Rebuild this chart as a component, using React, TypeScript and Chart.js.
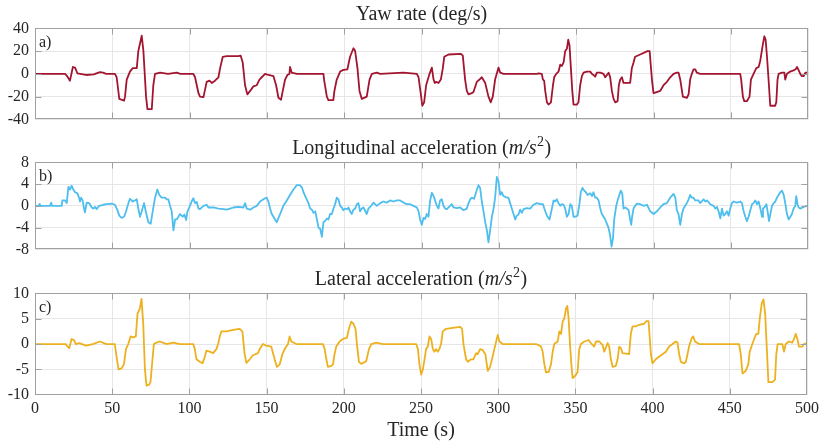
import React, { useEffect, useRef } from "react";
import { Chart, registerables } from "chart.js";

Chart.register(...registerables);

// ---- data: [time (s), value] ----
const yawRate: number[][] = [
  [0,0],[19.4,0],[20.5,-1.5],[22.6,-6],[24.5,6],[25.9,5.5],[27.4,0.5],[33,-1],[38,-0.5],[42,1.5],[44,1],[46,0],[51.7,0],[52.8,-3],[54.5,-22],[57.6,-23.5],[58.2,-20],[59.3,-5],[61.4,2],[63.2,5],[65.8,5],[66.8,20],[69,33.5],[70.1,20],[71.8,-20],[72.7,-31],[75.5,-31],[76.5,-10],[77.6,0],[80.9,1],[86,0],[91.6,1],[94,0],[102.4,0],
  [103.5,-3],[105.7,-17],[106.7,-20],[108.9,-20.5],[109.3,-18],[111,-7],[112.8,-6],[114.3,-8],[116.4,-6],[118.6,-3],[119.7,5],[121.4,15],[124,15.5],[131.5,15.5],[133,16],[134.3,10],[135.8,-10],[137.3,-18],[139.1,-15],[141.2,-11],[143.4,-10],[145.1,-5],[146.6,-3],[148.8,0],[150.9,-1],[154.2,-2],[155.9,-10],[157.4,-21],[159.1,-22.7],[160.2,-15],[161.7,-5],[163.2,-1],[164.5,0],[164.9,6],[166,1],[169.3,0],
  [186.5,0],[186.9,-5],[188.7,-20],[189.7,-23],[192.9,-23],[193.6,-15],[195.1,-5],[197.3,2],[199.4,3.5],[202,4],[203.7,15],[205.9,22.5],[207,20],[208.5,5],[209.8,-15],[211.3,-22],[214.5,-20],[216.3,-5],[217.8,0],[221,1],[223.2,0],[238.3,1],[246.9,0],
  [248,-3],[249.5,-18],[250.4,-28],[251.6,-25],[252.9,-10],[254,-5],[255.1,0],[256.6,5.5],[257.7,-5],[258.5,-8],[259.4,-7],[260.9,-8],[262.4,-5],[263.7,5],[264.6,15],[267.4,17],[275.4,17.5],[276.6,16],[278.1,-5],[279.2,-15],[280.3,-18],[282.4,-17],[283.5,-16],[285.7,-7],[287.4,-5],[288.9,-3],[291.1,-8],[293.2,-20],[294.7,-25],[296,-20],[297.5,-5],[299.7,5.5],[300.8,1],[302.9,0],[324.5,0],
  [325.6,0.5],[327.7,0],[328.4,-5],[329.2,-6],[329.9,-15],[331,-25],[332,-27],[333.6,-25],[334.9,-10],[335.7,-3],[337,0],[338.5,2],[339.6,8],[340.7,7],[341.8,10],[342.8,20],[343.9,22],[344.8,30],[345.6,25],[346.5,5],[347.4,-15],[348.2,-27],[350.4,-27],[351.4,-25],[352.5,-10],[353.6,-2],[354.7,1],[356.8,2],[359,2],[360,0],[361.1,-1],[362.2,-2.5],[363.3,1],[365.5,1],[367.6,0],[368.7,-3],[370.9,1],[371.9,-3],
  [373,-15],[374.1,-22],[375.2,-25],[376.7,-24],[377.5,-10],[378.4,-5],[379.5,-3],[380.5,-8],[384.8,-8],[385.9,5],[387,10],[388,15],[391.3,17],[396,20],[397.4,20],[398.9,-5],[399.9,-17],[402,-16],[404.2,-15],[406.4,-10],[408.6,-7],[410.7,-3],[412.9,0],[415,1],[416.1,1],[417.2,-5],[418.9,-20],[421.5,-21],[422.6,-18],[423.6,-5],[424.7,0],[425.8,4],[426.9,4],[427.9,1],[430.1,0],[456,0],
  [456.6,-5],[457.7,-20],[458.6,-24],[460.3,-24],[462,-20],[462.9,-5],[464.6,0],[466.4,5],[467.9,6],[469,12],[470.5,25],[471.6,33],[472.4,30],[473.3,15],[474.3,-5],[475.4,-28],[478.6,-28],[479.3,-25],[480.1,-5],[480.8,0],[483,1],[484.5,1],[485.1,-5],[486.2,0],[488.3,2],[490.5,3],[491.8,4],[492.7,6],[493.8,3],[494.8,0],[495.9,-2],[497,-2],[498.1,1],[500,1],
];

const longAcc: number[][] = [
  [0,0],[2.5,0],[2.8,0.3],[3.2,0],[9.7,0],[10.5,0.6],[11,0],[17.3,0],[17.7,1],[19.4,1],[20.5,0.5],[21.6,3.5],[22.6,3],[23.7,3.7],[24.8,3],[25.9,2.5],[27.4,2.3],[28.5,1.5],[29.1,0.8],[29.8,1.5],[30.8,1],[31.7,-0.5],[32.3,-1.2],[33.4,0.6],[35.1,0.5],[36.7,-0.3],[37.7,-0.5],[38.8,-0.2],[39.9,-0.6],[41.4,0],[44.2,0.2],[46.3,0.3],[49.6,0.4],[51.7,0.2],
  [53.3,-0.8],[54.5,-1.8],[56,-2.2],[57.6,-2],[58.9,-1],[60.4,0.5],[61.4,1.3],[63.2,0.8],[64.7,1],[65.8,1.2],[66.8,-0.5],[67.9,-2],[69,-1],[70.5,0.5],[71.6,-1],[73.3,-3],[74.8,-3.3],[76.1,-1],[77.6,1.5],[79.1,3],[80.4,2],[81.9,1.5],[84.1,1.5],[85.2,1.2],[86.2,1.2],[87.3,0],[88.4,-1],[89.5,-4.5],[90.6,-2.5],[91.6,-2.5],[92.7,-2],[93.8,-1.5],[95.5,-2],[96.6,-1.6],[97.7,-2.6],[98.6,-1],[100.2,0],
  [101.3,0.8],[102.4,1.4],[103.5,0.5],[104.6,0.7],[105.7,-0.5],[106.7,-0.6],[108.9,0],[111,0.2],[112.1,-0.3],[115.3,-0.3],[118.6,-0.5],[121.8,-0.6],[124,-0.7],[126.1,-0.5],[128.3,-0.3],[131.5,-0.2],[134.7,-0.3],[135.8,0.5],[136.9,-0.5],[139.1,-0.7],[141.2,-0.3],[143.4,0],[145.5,0.8],[147.7,1.2],[148.8,1.4],[149.8,1.5],[150.9,0.8],[152,-0.5],[153.1,-1.5],[154.2,-2],[155.2,-2.5],[156.3,-3],[158.5,-1.5],
  [160.6,0],[162.8,1],[164.9,2],[167.1,3],[169.3,3.8],[171.4,3.8],[172.7,3.3],[173.6,2.5],[174.7,1.8],[176.8,0.5],[177.9,-0.5],[179,-0.7],[180.1,-1.3],[181.2,-1],[182.3,-2.5],[183.3,-4],[184.4,-4.2],[185.5,-5.7],[186.5,-3],[187.6,-2.8],[188.7,-2.3],[189.7,-2.5],[190.8,-1.5],[191.9,-1.5],[193,-0.5],[194,0.3],[195.1,1.5],[196.2,1.2],[197.3,0],[198.4,-0.3],[199.4,-0.8],[200.5,-0.5],[202,-0.6],[202.7,-0.3],[203.7,-1],[204.8,-1.5],[205.9,-0.7],[207,-0.5],[208.1,0.3],[209.1,0.5],[210.2,-1],[211.3,-0.5],[212.4,-0.3],[214.5,-1.5],[215.6,-0.5],[216.7,-0.2],[217.8,0.2],[218.9,0.6],[221,0],
  [223.2,0.5],[225.3,0.8],[227.5,0.6],[229.6,1],[231.8,0.8],[233.9,1],[236.1,1],[238.3,0.6],[240.4,0.3],[242.6,0.3],[244.7,0],[246.9,-0.3],[248,-1],[249,-2.5],[250.1,-3.5],[251.2,-2.2],[252.3,-2.4],[253.3,-1.5],[254.4,-2],[255.5,1],[256.6,2.4],[257.7,1.8],[258.7,1],[259.8,0],[260.9,-0.5],[261.9,1],[263,1.2],[264.1,0],[265.2,-0.5],[266.3,-0.6],[268.4,0],[269.5,0.3],[270.6,-0.3],[272.8,-0.4],[274.9,-0.3],[277.1,-0.8],[279.2,-0.5],
  [280.3,0.5],[281.4,1.2],[282.4,1.5],[283.9,1.3],[285.2,2.5],[286.7,3.8],[287.8,3.3],[288.9,0.8],[290,-1],[291.1,-3],[292.2,-4.5],[293.2,-6.7],[294.3,-4.5],[295.4,-2],[296.5,-0.5],[297.5,1.5],[298.6,5.3],[299.7,4.5],[300.8,2],[301.8,2.5],[302.9,1.8],[305.1,1.5],[306.1,1.5],[307.2,0.5],[308.3,-0.5],[309.4,-1.5],[310.5,-2.5],[311.5,-1.8],[312.6,-1.6],[313.7,-0.7],[314.8,-1.3],[315.9,-0.6],[318,-0.4],[320.2,-0.5],[322.3,0.2],[324.5,0.5],[326.7,0.3],[328.4,0.3],
  [329.9,-1],[331,-1.8],[332.7,-2.5],[334.2,-0.5],[335.3,1],[336.3,0.8],[337.4,1.2],[338.5,0.5],[339.6,0],[340.7,0.3],[341.8,0.2],[342.8,-0.5],[343.9,-2],[345,-1.5],[346.1,0.3],[347.1,0],[348.2,-2],[349.3,-2],[350.8,-1.8],[352.1,0.5],[352.9,2.5],[354,3.3],[355.1,2.8],[356.2,2.5],[357.3,2],[359,2.3],[360.1,1.8],[361.1,2.5],[362.2,1.5],[363.3,1.5],[364.4,1],[365.5,-0.5],[366.5,-1.5],[367.6,-2],[368.7,-2.5],[369.8,-3.3],[370.8,-4],[371.9,-5.5],[372.8,-7.5],[373.7,-6],[374.5,-2.5],[375.8,0],[376.7,1],[377.8,2],[378.8,2.8],[379.7,2.3],
  [380.5,-0.5],[381.6,-0.3],[382.7,-0.5],[383.8,-0.8],[384.8,-2.5],[385.5,-3.5],[386.1,-2],[387,-0.5],[388.1,0],[389.2,0.4],[391.3,0.3],[393.5,0],[395.7,0.2],[397.8,-1],[400,-1.5],[402.1,-1],[404.3,-0.3],[406.4,0.3],[408.6,0.5],[410.7,1.5],[412.9,2.2],[414,1.5],[415,-0.8],[416.1,-1.5],[417.2,-3.5],[418.3,-1.5],[419.3,-0.5],[420.4,0],[421.5,0.5],[422.6,1.2],[423.6,2],[424.7,1.5],[425.8,1.5],[426.9,1],[429,1],[430.1,0.5],[432.3,1.2],[433.4,0.8],[434.4,1],[435.5,0.7],[436.6,0.3],[438.8,0],[439.8,-0.5],[440.9,-0.2],[442,-1],[443.1,-2.3],[444.2,-0.5],[445.2,-1.8],[446.3,-1.5],[447.4,-1],[448.5,-1.8],[449.5,-0.5],[450.6,0.5],[451.7,0.8],[453.9,0.6],[456,0.8],
  [457.1,0.5],[458.2,-1],[459.3,-2],[460.3,-2.8],[461.4,-2],[462.5,-0.8],[463.6,0.3],[464.6,0.5],[465.7,1],[466.8,0.3],[467.9,0.8],[469,-0.5],[470.1,-2],[470.7,-0.5],[471.6,-0.3],[472.9,0.3],[473.7,-1],[474.6,-2.8],[475.5,-1.5],[476.5,0],[477.6,0.5],[478.7,0.8],[479.7,1.5],[480.8,2],[481.9,2.5],[483,2.8],[484.1,2],[485.1,0.5],[486.2,-1.5],[487.3,-2.5],[488.4,-2],[489.4,-1.5],[490.5,-0.5],[491.6,0],[492.2,1.8],[493.1,0.2],[493.8,-0.3],[494.8,-0.5],[497,-0.2],[499.1,0],[500,0],
];

const latAcc: number[][] = [
  [0,0],[20,0],[20.5,-0.3],[22.2,-0.8],[23.7,1],[25.2,0.8],[26.5,0],[28.7,0.2],[33,-0.3],[37.5,0],[42,0.5],[46.3,0],[51.7,0],[52.8,-2.5],[54.1,-5],[56,-4.8],[57.6,-4],[58.9,-1],[60.4,0],[61.9,1.5],[63.6,1.3],[65.3,1.5],[66.4,6],[67.9,7],[69,8.9],[70.1,4],[71.2,-5],[72.2,-8.2],[73.9,-8],[74.8,-7.5],[76.1,-3],[77,0],[78.7,0.3],[80.9,0.5],[85.2,0],[89.5,0.3],[93.8,0],[102.5,0],
  [103.5,-1],[104.6,-3],[106.7,-3.5],[108.5,-3.8],[110,-2.5],[111,-1.3],[113.2,-1.5],[115.3,-1.8],[117.5,-1],[118.6,0],[119.7,1.5],[120.7,2.5],[124,2.5],[128.3,2.8],[132.6,3],[134.3,2.5],[135.8,-2],[136.9,-3.7],[139.1,-3],[141.2,-2.2],[144.4,-1.8],[145.5,-1],[147.7,0],[149.8,-0.3],[153,-0.5],[155.2,-3],[156.7,-4.5],[158.5,-4],[160.2,-2],[161.7,-1],[162.8,-0.5],[163.9,0],[164.9,1.5],[166,0.5],[169.3,0],
  [186.5,0],[187.6,-1],[188.7,-3],[189.7,-4.5],[191.9,-4.3],[193,-4],[194,-2],[195.1,-0.5],[197.3,0.5],[199.4,1],[202,1.2],[203.3,3],[204.8,4.4],[206.3,4],[207.6,3],[208.5,0],[209.8,-3.5],[211.3,-3.9],[214.5,-3.4],[216.3,-1],[217.8,0],[221,0.3],[225.3,0],[246.9,0],
  [248,-1],[249,-4],[250.1,-6],[251.2,-5],[252.3,-3],[253.3,-1],[254.4,-0.5],[255.5,1.5],[256.6,1],[257.7,-1],[258.7,-1.5],[259.8,-1],[260.9,-1.5],[261.9,-1],[263,0],[264.1,2.5],[266.3,3],[270.6,3.2],[275.4,3.4],[276.6,3],[277.5,0],[279.2,-3],[280.3,-3.5],[282.4,-3],[283.9,-3],[285.7,-1.8],[286.7,-2],[288.3,-1],[290,-1.2],[291.7,-2],[293.2,-5.3],[294.7,-4.5],[296,-3],[297.5,-1],[299.7,1.8],[300.8,0.5],[302.9,0],[324.5,0],
  [326.7,-0.3],[327.7,-0.5],[328.8,-1.5],[329.9,-4],[331,-5.6],[332.7,-5.5],[334.2,-4],[335.3,-1.5],[336.3,0],[338.5,0.5],[339.6,2.5],[340.7,2],[341.8,4.5],[342.8,5],[343.9,7],[344.8,7.5],[345.6,5],[346.5,0],[347.4,-4],[348.2,-6.7],[350,-6.2],[351.4,-5.5],[352.5,-1],[353.6,0],[355.8,0.5],[358.5,0.8],[360,0.2],[362.2,-0.5],[363.3,0.5],[365.5,0.5],[367.6,-0.2],[368.7,-1.5],[370.9,0.2],[371.9,-0.5],
  [373,-3],[374.1,-4.5],[376.2,-4.3],[377.3,-3],[378.4,-0.5],[379.5,-0.8],[380.5,-1.8],[384.8,-2],[385.9,2],[387,3.5],[389.2,3.5],[391.3,3.8],[394.5,4],[396,4.5],[397.4,4.5],[398.9,-2],[399.9,-3.8],[402,-3],[404.2,-2.5],[406.4,-2],[408.6,-1.5],[410.7,-0.5],[412.9,0],[415,0.5],[416.1,0.3],[417.2,-2],[418.3,-3.5],[420.4,-3.8],[421.5,-3.5],[422.6,-2],[423.6,-0.5],[425.4,1.2],[426.3,1.5],[427.5,0.5],[430.1,0],[456,0],
  [457.1,-2],[458.2,-5.8],[460.3,-5.3],[462,-4],[462.9,-1.5],[464.6,0],[466.4,1.5],[467.2,2],[468.5,2],[469.4,5],[470.7,8],[471.8,8.8],[472.9,6],[474,-1],[475,-7.5],[477.6,-7.5],[479.3,-7],[480.1,-2],[481,0],[484,0],[485.1,-1.5],[486.2,0],[488.3,0.5],[490.5,0.3],[491.6,1],[492.7,2],[493.8,1],[494.8,-0.5],[497,-0.5],[498.1,0],[500,0.2],
];

const timeMin = 0;
const timeMax = 500;
const timeStep = 50;

// ---- styling / layout ----
const FONT = "'Liberation Serif', 'Times New Roman', serif";
const TEXT = "#262626";
const GRID = "#e6e6e6";
const BOX = "#a0a0a0";
const W = 823;

type Part = { t: string; it?: boolean; sup?: boolean };

const panels = [
  {
    title: [{ t: "Yaw rate (deg/s)" }] as Part[],
    label: "a)", data: yawRate, color: "#A2142F",
    yMin: -40, yMax: 40, yStep: 20,
    top: 0, height: 135, areaTop: 28.3, areaBottom: 128.8, xAxis: false,
  },
  {
    title: [{ t: "Longitudinal acceleration (" }, { t: "m/s", it: true }, { t: "2", sup: true }, { t: ")" }] as Part[],
    label: "b)", data: longAcc, color: "#4DBEEE",
    yMin: -8, yMax: 8, yStep: 4,
    top: 135, height: 130, areaTop: 27.3, areaBottom: 127.5, xAxis: false,
  },
  {
    title: [{ t: "Lateral acceleration (" }, { t: "m/s", it: true }, { t: "2", sup: true }, { t: ")" }] as Part[],
    label: "c)", data: latAcc, color: "#EDB120",
    yMin: -10, yMax: 10, yStep: 5,
    top: 265, height: 180, areaTop: 28.3, areaBottom: 129.8, xAxis: true,
  },
];

function drawRich(ctx: CanvasRenderingContext2D, parts: Part[], cx: number, y: number, size: number) {
  const fontOf = (p: Part) =>
    p.sup ? `${Math.round(size * 0.7)}px ${FONT}` : `${p.it ? "italic " : ""}${size}px ${FONT}`;
  let total = 0;
  const widths = parts.map((p) => {
    ctx.font = fontOf(p);
    const w = ctx.measureText(p.t).width + (p.sup ? 1 : 0);
    total += w;
    return w;
  });
  let x = cx - total / 2;
  ctx.textAlign = "left";
  ctx.textBaseline = "alphabetic";
  parts.forEach((p, i) => {
    ctx.font = fontOf(p);
    ctx.fillText(p.t, x + (p.sup ? 0.5 : 0), p.sup ? y - size * 0.38 : y);
    x += widths[i];
  });
}

const framePlugin = {
  id: "frame",
  afterDatasetsDraw(chart: any, _args: any, opts: any) {
    const { ctx, chartArea } = chart;
    const { left, right, top, bottom } = chartArea;
    ctx.save();
    const L = Math.round(left) + 0.5;
    const R = Math.round(right) - 0.5;
    const T = Math.round(top) + 0.5;
    const B = Math.round(bottom) - 0.5;
    ctx.strokeStyle = BOX;
    ctx.lineWidth = 1;
    ctx.strokeRect(L, T, R - L, B - T);
    ctx.beginPath();
    const xs = chart.scales.x;
    const ys = chart.scales.y;
    for (const tk of xs.ticks) {
      const p = Math.round(xs.getPixelForValue(tk.value)) + 0.5;
      if (p <= L + 1 || p >= R - 1) continue;
      ctx.moveTo(p, B); ctx.lineTo(p, B - 6);
      ctx.moveTo(p, T); ctx.lineTo(p, T + 6);
    }
    for (const tk of ys.ticks) {
      const p = Math.round(ys.getPixelForValue(tk.value)) + 0.5;
      if (p <= T + 1 || p >= B - 1) continue;
      ctx.moveTo(L, p); ctx.lineTo(L + 6, p);
      ctx.moveTo(R, p); ctx.lineTo(R - 6, p);
    }
    ctx.stroke();
    ctx.fillStyle = TEXT;
    ctx.font = `16px ${FONT}`;
    ctx.textAlign = "left";
    ctx.textBaseline = "alphabetic";
    ctx.fillText(opts.label, left + 4, top + 18.4);
    drawRich(ctx, opts.title, (left + right) / 2, top - 8.8, 20);
    ctx.restore();
  },
};

function Panel({ cfg }: { cfg: (typeof panels)[number] }) {
  const ref = useRef<HTMLCanvasElement | null>(null);
  useEffect(() => {
    if (!ref.current) return;
    const xHeight = cfg.xAxis ? cfg.height - cfg.areaBottom : 0;
    const chart = new Chart(ref.current, {
      type: "line",
      data: {
        datasets: [
          {
            data: cfg.data.map(([x, y]) => ({ x, y })),
            borderColor: cfg.color,
            borderWidth: 1.8,
            pointRadius: 0,
            fill: false,
            tension: 0,
            borderJoinStyle: "round",
          },
        ],
      },
      options: {
        animation: false,
        responsive: false,
        events: [],
        layout: {
          padding: {
            left: 0,
            right: W - 808.3,
            top: cfg.areaTop,
            bottom: cfg.height - cfg.areaBottom - xHeight,
          },
        },
        plugins: {
          legend: { display: false },
          tooltip: { enabled: false },
          frame: { label: cfg.label, title: cfg.title },
        } as any,
        scales: {
          x: {
            type: "linear",
            min: timeMin,
            max: timeMax,
            ticks: {
              stepSize: timeStep,
              display: cfg.xAxis,
              padding: 4,
              color: TEXT,
              font: { family: FONT, size: 16 },
              maxRotation: 0,
              autoSkip: false,
            },
            grid: { color: GRID, drawTicks: false },
            border: { display: false },
            title: {
              display: cfg.xAxis,
              text: "Time (s)",
              color: TEXT,
              font: { family: FONT, size: 20 },
              padding: { top: 0, bottom: 2 },
            },
            afterFit: (s: any) => {
              s.height = xHeight;
            },
          },
          y: {
            type: "linear",
            min: cfg.yMin,
            max: cfg.yMax,
            ticks: {
              stepSize: cfg.yStep,
              padding: 6,
              color: TEXT,
              font: { family: FONT, size: 16 },
            },
            grid: { color: GRID, drawTicks: false },
            border: { display: false },
            afterFit: (s: any) => {
              s.width = 35;
            },
          },
        },
      } as any,
      plugins: [framePlugin],
    });
    return () => chart.destroy();
  }, [cfg]);
  return (
    <canvas
      ref={ref}
      width={W}
      height={cfg.height}
      style={{ position: "absolute", left: 0, top: cfg.top, width: W, height: cfg.height }}
    />
  );
}

export default function App() {
  return (
    <div style={{ position: "absolute", left: 0, top: 0, width: W, height: 445, background: "#ffffff" }}>
      {panels.map((p) => (
        <Panel key={p.label} cfg={p} />
      ))}
    </div>
  );
}
